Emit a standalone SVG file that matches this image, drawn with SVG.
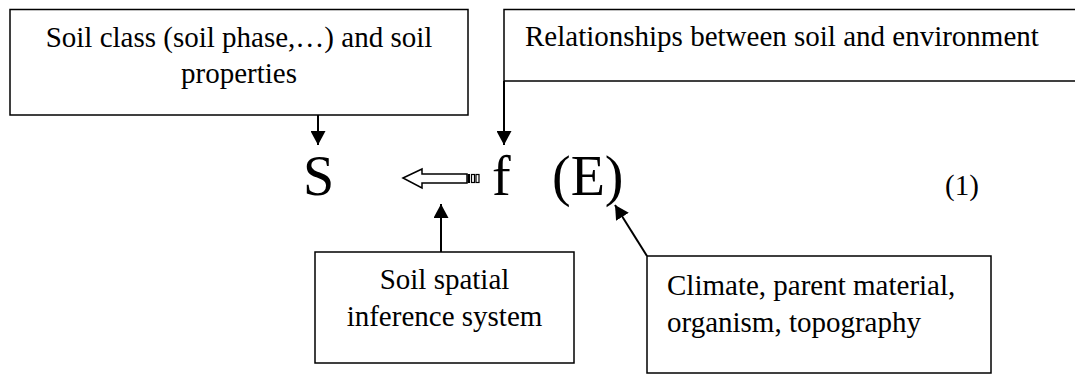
<svg xmlns="http://www.w3.org/2000/svg" width="1075" height="375" viewBox="0 0 1075 375">
<style>
.box{fill:#fff;stroke:#000;stroke-width:1.5}
.t{font-family:"Liberation Serif","Times New Roman",serif;font-size:29px;fill:#000}
.c{text-anchor:middle}
.big{font-family:"Liberation Serif","Times New Roman",serif;font-size:56px;fill:#000}
.conn{stroke:#000;stroke-width:2;fill:none}
</style>
<defs>
<marker id="ah" markerUnits="userSpaceOnUse" markerWidth="15" markerHeight="15" refX="14" refY="7.5" orient="auto">
<path d="M0,0 L14,7.5 L0,15 Z" fill="#000"/>
</marker>
</defs>
<rect width="1075" height="375" fill="#fff"/>
<g id="box-soil-class">
<rect class="box" x="10" y="9.5" width="458" height="105.5"/>
<text class="t c" x="239" y="47">Soil class (soil phase,…) and soil</text>
<text class="t c" x="239" y="83">properties</text>
</g>
<g id="box-relationships">
<rect class="box" x="504" y="9.5" width="590" height="71.5"/>
<text class="t" x="525" y="46">Relationships between soil and environment</text>
</g>
<g id="box-inference">
<rect class="box" x="315" y="252" width="259" height="111"/>
<text class="t c" x="444.5" y="289">Soil spatial</text>
<text class="t c" x="444.5" y="326">inference system</text>
</g>
<g id="box-environment">
<rect class="box" x="647" y="256" width="344" height="117"/>
<text class="t" x="667" y="295">Climate, parent material,</text>
<text class="t" x="667" y="332">organism, topography</text>
</g>
<g id="equation">
<text class="big" x="303" y="195">S</text>
<text class="big" x="492" y="195">f</text>
<text class="big" x="552" y="195">(E)</text>
<text class="t" x="945" y="195">(1)</text>
</g>
<g id="inference-arrow">
<polygon points="403,178 422,169 422,174 467,174 467,183 422,183 422,188" fill="#fff" stroke="#000" stroke-width="1.5"/>
<rect x="467.5" y="174" width="2.5" height="9" fill="#000"/>
<rect x="471.5" y="174.5" width="3" height="8" fill="#fff" stroke="#000" stroke-width="1.2"/>
<rect x="476" y="174.5" width="3" height="8" fill="#fff" stroke="#000" stroke-width="1.2"/>
</g>
<g id="connectors">
<line class="conn" x1="318" y1="115" x2="318" y2="145" marker-end="url(#ah)"/>
<line class="conn" x1="504" y1="81" x2="504" y2="145" marker-end="url(#ah)"/>
<line class="conn" x1="441" y1="252" x2="441" y2="204" marker-end="url(#ah)"/>
<line class="conn" x1="647" y1="256" x2="615" y2="205" marker-end="url(#ah)"/>
</g>
</svg>
